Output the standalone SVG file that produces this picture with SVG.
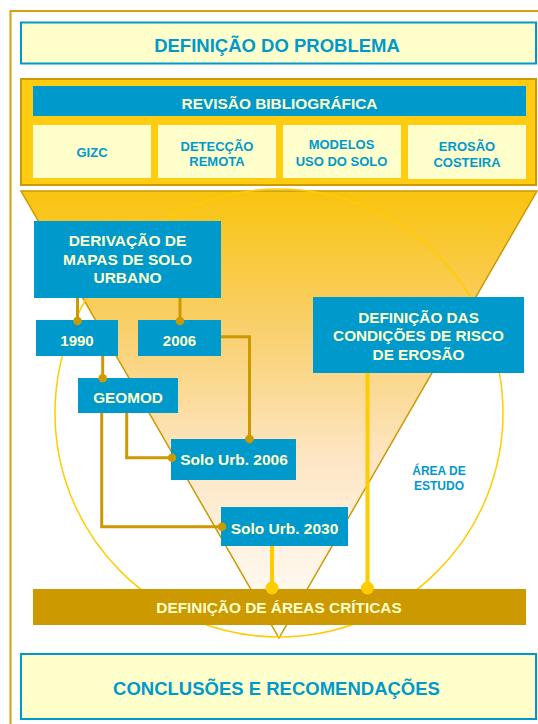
<svg xmlns="http://www.w3.org/2000/svg" width="538" height="724" viewBox="0 0 538 724">
<defs>
<linearGradient id="funnelGrad" x1="0" y1="0" x2="0" y2="1">
<stop offset="0" stop-color="#F9C40E"/>
<stop offset="0.3" stop-color="#F9CF6A"/>
<stop offset="0.6" stop-color="#FDE6C4"/>
<stop offset="1" stop-color="#FFFFFF"/>
</linearGradient>
</defs>
<style>
.t{font-family:"Liberation Sans",Arial,sans-serif;font-weight:bold;text-anchor:middle}
.cream{fill:#FFFFCC}
.blue{fill:#0099CC}
.node{fill:#0099CC}
.pale{fill:#FFFFCC;stroke:#0099CC;stroke-width:2}
.sub{fill:#FFFFCC}
.gl{fill:none;stroke:#CC9900;stroke-width:3}
.gd{fill:#CC9900}
.yl{fill:none;stroke:#FFCC00;stroke-width:4}
.yd{fill:#FFCC00}
</style>
<rect width="538" height="724" fill="#FFFFFF"/>
<path d="M10.5,724 V11 H538" fill="none" stroke="#D4A017" stroke-width="2"/>

<g id="definicao-problema">
<rect class="pale" x="21" y="22.5" width="515" height="41"/>
<text class="t blue" x="277" y="51.5" font-size="18.5">DEFINIÇÃO DO PROBLEMA</text>
</g>

<g id="revisao">
<rect x="21" y="79" width="515" height="106" fill="#FFCC11" stroke="#CC9900" stroke-width="2"/>
<rect class="node" x="33" y="86" width="493" height="30"/>
<text class="t cream" x="279.5" y="108.5" font-size="15.4">REVISÃO BIBLIOGRÁFICA</text>
</g>
<g id="gizc">
<rect class="sub" x="33" y="125" width="118" height="53"/>
<text class="t blue" x="92" y="156.5" font-size="13">GIZC</text>
</g>
<g id="deteccao">
<rect class="sub" x="158" y="125" width="118" height="53"/>
<text class="t blue" x="217" y="150.5" font-size="13">DETECÇÃO</text>
<text class="t blue" x="217" y="166" font-size="13">REMOTA</text>
</g>
<g id="modelos">
<rect class="sub" x="283" y="125" width="118" height="53"/>
<text class="t blue" x="341.5" y="149" font-size="13">MODELOS</text>
<text class="t blue" x="341.5" y="165.5" font-size="13">USO DO SOLO</text>
</g>
<g id="erosao">
<rect class="sub" x="408" y="125" width="118" height="54"/>
<text class="t blue" x="467" y="150.5" font-size="13">EROSÃO</text>
<text class="t blue" x="467" y="167" font-size="13">COSTEIRA</text>
</g>

<g id="funil">
<polygon points="21,191 537,191 279,638" fill="url(#funnelGrad)" stroke="#CC9900" stroke-width="1.5"/>
</g>
<g id="area-estudo">
<circle cx="279" cy="413" r="224" fill="none" stroke="#FFCC00" stroke-width="1.5"/>
<text class="t blue" x="439" y="475" font-size="12">ÁREA DE</text>
<text class="t blue" x="439" y="489.5" font-size="12">ESTUDO</text>
</g>

<g id="areas-criticas">
<rect x="33" y="589" width="493" height="36" fill="#CC9900"/>
<text class="t cream" x="279" y="612.5" font-size="15.4">DEFINIÇÃO DE ÁREAS CRÍTICAS</text>
</g>

<g id="conclusoes">
<rect class="pale" x="21" y="654" width="515" height="65"/>
<text class="t blue" x="276.5" y="695" font-size="18.5">CONCLUSÕES E RECOMENDAÇÕES</text>
</g>

<g id="derivacao">
<rect class="node" x="34" y="221" width="187" height="77"/>
<text class="t cream" x="127.5" y="246" font-size="15.5">DERIVAÇÃO DE</text>
<text class="t cream" x="127.5" y="264.5" font-size="15.5">MAPAS DE SOLO</text>
<text class="t cream" x="127.5" y="283" font-size="15.5">URBANO</text>
</g>
<g id="n1990">
<rect class="node" x="36" y="320" width="82" height="36"/>
<text class="t cream" x="77" y="346" font-size="15">1990</text>
</g>
<g id="n2006">
<rect class="node" x="138" y="320" width="83" height="36"/>
<text class="t cream" x="179.5" y="346" font-size="15">2006</text>
</g>
<g id="geomod">
<rect class="node" x="78" y="378" width="100" height="35"/>
<text class="t cream" x="128" y="403" font-size="15.3">GEOMOD</text>
</g>
<g id="solo2006">
<rect class="node" x="171" y="439" width="125" height="41"/>
<text class="t cream" x="234" y="464.5" font-size="15.5">Solo Urb. 2006</text>
</g>
<g id="solo2030">
<rect class="node" x="221" y="507" width="127" height="39"/>
<text class="t cream" x="284.5" y="533.5" font-size="15.5">Solo Urb. 2030</text>
</g>
<g id="condicoes">
<rect class="node" x="313" y="297" width="211" height="76"/>
<text class="t cream" x="418.5" y="323" font-size="15.3">DEFINIÇÃO DAS</text>
<text class="t cream" x="418.5" y="341.3" font-size="15.3">CONDIÇÕES DE RISCO</text>
<text class="t cream" x="418.5" y="359.6" font-size="15.3">DE EROSÃO</text>
</g>

<g id="connectors">
<path class="gl" d="M77.5,298 V321"/>
<circle class="gd" cx="77.5" cy="321" r="4.3"/>
<path class="gl" d="M180,298 V321"/>
<circle class="gd" cx="180" cy="321" r="4.3"/>
<path class="gl" d="M221,336.7 H249.5 V439"/>
<circle class="gd" cx="249.5" cy="439" r="4.3"/>
<path class="gl" d="M102.7,356 V378"/>
<circle class="gd" cx="102.7" cy="378.3" r="4.3"/>
<path class="gl" d="M126.7,413 V457.7 H172"/>
<circle class="gd" cx="172" cy="457.7" r="4.3"/>
<path class="gl" d="M101.7,413 V526.7 H222"/>
<circle class="gd" cx="222" cy="526.7" r="4.3"/>
<path class="yl" d="M272,546 V588"/>
<circle class="yd" cx="272" cy="588" r="6.5"/>
<path class="yl" d="M367.5,373 V588"/>
<circle class="yd" cx="367.5" cy="588" r="6.5"/>
</g>
</svg>
